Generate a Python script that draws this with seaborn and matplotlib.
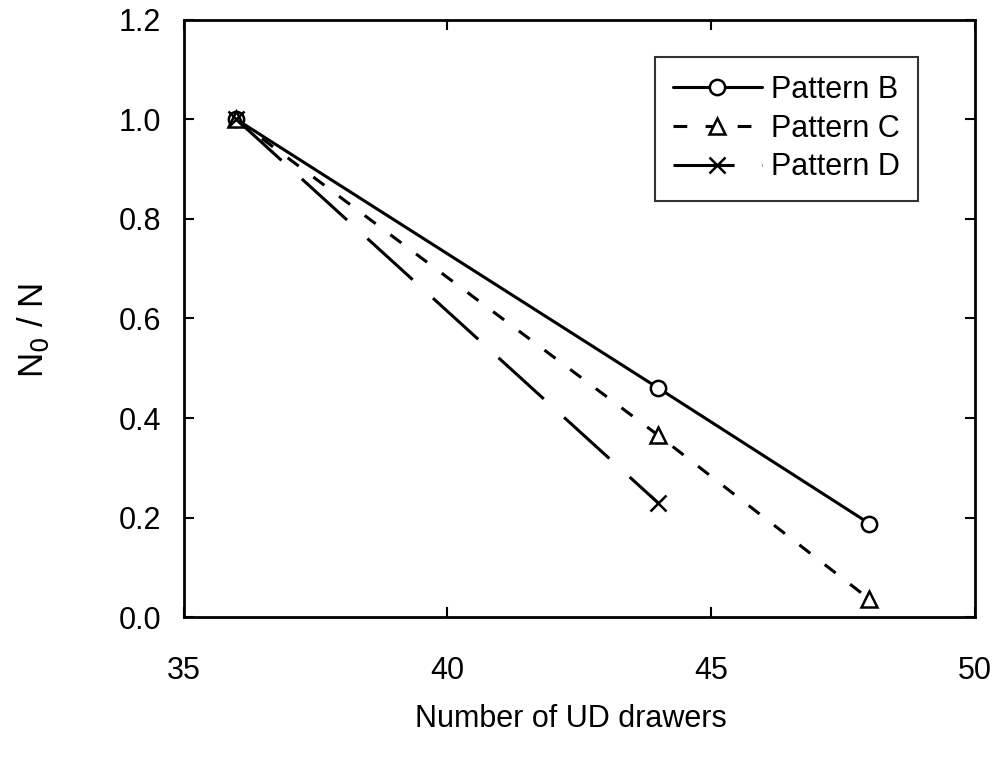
import matplotlib
matplotlib.use("Agg")
import matplotlib.pyplot as plt
import seaborn as sns

x_b = [36, 44, 48]
y_b = [1.0, 0.46, 0.188]
x_c = [36, 44, 48]
y_c = [1.0, 0.365, 0.036]
x_d = [36, 44]
y_d = [1.0, 0.229]
labels = ["Pattern B", "Pattern C", "Pattern D"]

sns.set_theme(style="ticks")
plt.rcParams['font.family'] = ['Liberation Sans', 'DejaVu Sans']

fig = plt.figure(figsize=(10.03, 7.6), dpi=100)
ax = fig.add_axes([0.183, 0.188, 0.789, 0.786])

sns.lineplot(x=x_b, y=y_b, ax=ax, color="black", lw=2.2, marker="o", markersize=11,
             markerfacecolor="white", markeredgecolor="black", markeredgewidth=1.8,
             label=labels[0])
sns.lineplot(x=x_c, y=y_c, ax=ax, color="black", lw=2.2, linestyle=(0, (4.5, 6)), marker="^",
             markersize=12, markerfacecolor="white", markeredgecolor="black",
             markeredgewidth=1.8, label=labels[1])
sns.lineplot(x=x_d, y=y_d, ax=ax, color="black", lw=2.2, linestyle=(0, (20, 9)), marker="x",
             markersize=12, markeredgecolor="black", markeredgewidth=1.8, label=labels[2])

ax.set_xlim(35, 50)
ax.set_ylim(0, 1.2)
ax.set_xticks([35, 40, 45, 50])
ax.set_yticks([0.0, 0.2, 0.4, 0.6, 0.8, 1.0, 1.2])
ax.set_yticklabels(["0.0", "0.2", "0.4", "0.6", "0.8", "1.0", "1.2"])
ax.tick_params(direction="in", length=7, width=1.5, top=True, right=True,
               labelsize=22, colors="black")
ax.tick_params(axis="x", pad=28)
ax.tick_params(axis="y", pad=16)
for s in ax.spines.values():
    s.set_linewidth(2)
    s.set_color("black")
ax.set_xlabel("Number of UD drawers", fontsize=22, color="black")
ax.set_ylabel("N$_0$ / N", fontsize=25, color="black")
ax.xaxis.set_label_coords(0.49, -0.17)
ax.xaxis.label.set_va("center")
ax.yaxis.set_label_coords(-0.19, 0.48)
ax.yaxis.label.set_va("center")

leg = ax.legend(loc="upper right", bbox_to_anchor=(0.928, 0.938), borderaxespad=0,
                frameon=True, fancybox=False, edgecolor="black", fontsize=22,
                handlelength=2.9, handletextpad=0.3, borderpad=0.6, labelspacing=0.28)
leg.get_frame().set_linewidth(1.5)
for t in leg.get_texts():
    t.set_color("black")

fig.savefig("out.png", dpi=100, facecolor="white")
